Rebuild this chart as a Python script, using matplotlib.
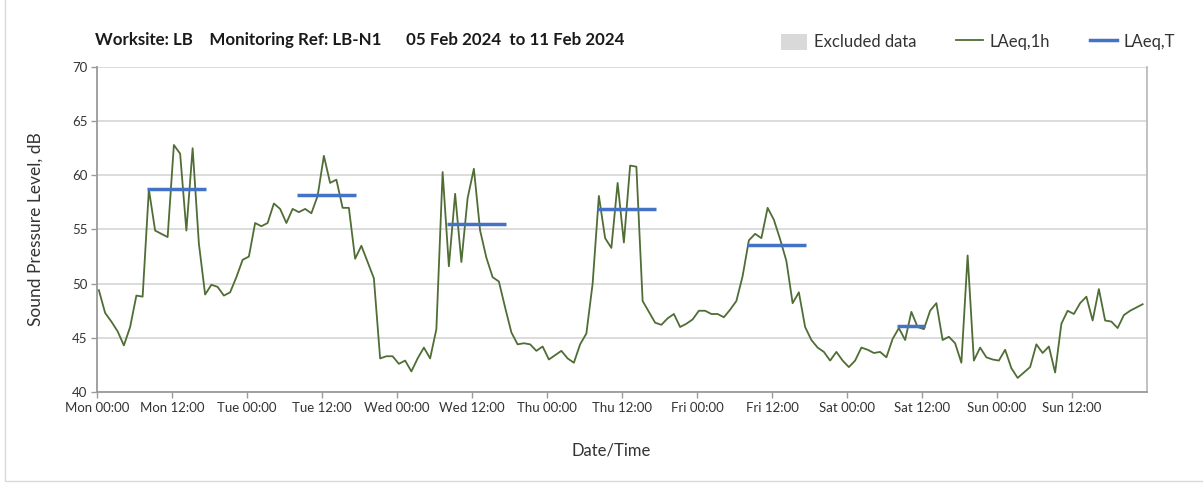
import matplotlib
matplotlib.use('Agg')
from matplotlib import pyplot as plt
from matplotlib.patches import Patch, Rectangle
from matplotlib.lines import Line2D

plt.rcParams['font.family'] = ['Lato', 'DejaVu Sans']

# hourly LAeq,1h values, Mon 00:00 .. Sun 23:00
laeq_mon = [49.4, 47.3, 46.5, 45.6, 44.3, 46.0, 48.9, 48.8, 58.7, 54.9, 54.6, 54.3,
            62.8, 62.0, 54.9, 62.5, 53.7, 49.0, 49.9, 49.7, 48.9, 49.2, 50.6, 52.2]
laeq_tue = [52.5, 55.6, 55.3, 55.6, 57.4, 56.9, 55.6, 56.9, 56.6, 56.9, 56.5, 58.1,
            61.8, 59.3, 59.6, 57.0, 57.0, 52.3, 53.5, 52.0, 50.5, 43.1, 43.3, 43.3]
laeq_wed = [42.6, 42.9, 41.9, 43.1, 44.1, 43.1, 45.8, 60.3, 51.6, 58.3, 52.0, 57.9,
            60.6, 54.9, 52.4, 50.6, 50.2, 47.8, 45.5, 44.4, 44.5, 44.4, 43.8, 44.2]
laeq_thu = [43.0, 43.4, 43.8, 43.1, 42.7, 44.4, 45.4, 50.0, 58.1, 54.2, 53.3, 59.3,
            53.8, 60.9, 60.8, 48.4, 47.4, 46.4, 46.2, 46.8, 47.2, 46.0, 46.3, 46.7]
laeq_fri = [47.5, 47.5, 47.2, 47.2, 46.9, 47.6, 48.4, 50.7, 54.0, 54.6, 54.2, 57.0,
            55.9, 54.1, 52.1, 48.2, 49.2, 46.0, 44.8, 44.1, 43.7, 42.9, 43.7, 42.9]
laeq_sat = [42.3, 42.9, 44.1, 43.9, 43.6, 43.7, 43.2, 44.9, 45.9, 44.8, 47.4, 46.0,
            45.8, 47.5, 48.2, 44.8, 45.1, 44.5, 42.7, 52.6, 42.9, 44.1, 43.2, 43.0]
laeq_sun = [42.9, 43.9, 42.2, 41.3, 41.8, 42.3, 44.4, 43.6, 44.2, 41.8, 46.3, 47.5,
            47.2, 48.2, 48.8, 46.6, 49.5, 46.6, 46.5, 45.9, 47.1, 47.5, 47.8, 48.1]
laeq_1h = laeq_mon + laeq_tue + laeq_wed + laeq_thu + laeq_fri + laeq_sat + laeq_sun

# LAeq,T per day (start hour, end hour, level)
laeq_t_start = [8, 32, 56, 80, 104, 128]
laeq_t_end = [17.5, 41.5, 65.5, 89.5, 113.5, 132.5]
laeq_t_val = [58.7, 58.2, 55.5, 56.9, 53.6, 46.1]

days = ['Mon', 'Tue', 'Wed', 'Thu', 'Fri', 'Sat', 'Sun']
tick_labels = [f'{d} {t}' for d in days for t in ('00:00', '12:00')]

fig = plt.figure(figsize=(12.03, 4.84), dpi=100)
ax = fig.add_axes([97 / 1203, 92 / 484, 1050 / 1203, 325 / 484])

hours = [h + 0.3 for h in range(len(laeq_1h))]
ax.plot(hours, laeq_1h, color='#4F6D35', lw=1.3, zorder=3)
ax.hlines(laeq_t_val, laeq_t_start, laeq_t_end, color='#4472C4', lw=2.5, zorder=4)

ax.set_xlim(0, 168)
ax.set_ylim(40, 70)
ax.set_yticks(range(40, 71, 5))
ax.set_xticks(range(0, 168, 12))
ax.set_xticklabels(tick_labels)
ax.set_xticks(range(0, 169, 24), minor=True)
ax.tick_params(axis='both', labelsize=9.5, colors='#333333', length=4, width=1,
               direction='out', pad=3)
ax.tick_params(axis='x', which='both', color='#9A9A9A')
ax.tick_params(axis='y', color='#9A9A9A')
ax.tick_params(axis='x', which='minor', length=0)
ax.grid(axis='y', color='#D9D9D9', lw=1.3)
ax.grid(axis='x', which='minor', color='#D9D9D9', lw=1.3)
ax.grid(axis='x', which='major', visible=False)
for s in ('left', 'bottom'):
    ax.spines[s].set_color('#9A9A9A')
    ax.spines[s].set_linewidth(1.3)
ax.spines['top'].set_visible(False)
ax.spines['right'].set_color('#BDBDBD')
ax.spines['right'].set_linewidth(1.3)

ax.set_ylabel('Sound Pressure Level, dB', fontsize=12.5, color='#333333', labelpad=20)
ax.set_xlabel('Date/Time', fontsize=12, color='#333333')
ax.xaxis.set_label_coords(0.49, -0.155)

fig.text(95 / 1203, 1 - 40 / 484, 'Worksite: LB    Monitoring Ref: LB-N1      05 Feb 2024  to 11 Feb 2024',
         fontsize=12.2, fontweight='bold', color='#1a1a1a', va='center')

handles = [Patch(facecolor='#D9D9D9', edgecolor='none'),
           Line2D([], [], color='#4F6D35', lw=1.3),
           Line2D([], [], color='#4472C4', lw=2.5)]
fig.legend(handles, ['Excluded data', 'LAeq,1h', 'LAeq,T'], ncol=3, frameon=False,
           loc='center right', bbox_to_anchor=(1190 / 1203, 1 - 42 / 484),
           fontsize=12, handlelength=1.6, handleheight=1.1, columnspacing=2.4,
           handletextpad=0.4, labelcolor='#333333')

# outer chart frame
fig.patches.append(Rectangle((5 / 1203, 3 / 484), 1, 1, transform=fig.transFigure,
                             fill=False, edgecolor='#D9D9D9', lw=1))

fig.savefig('out.png', dpi=100)
